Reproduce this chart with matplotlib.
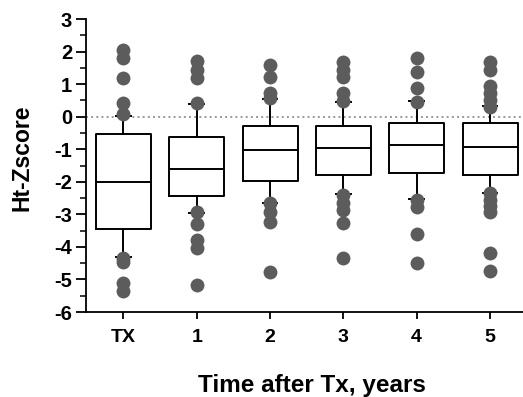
import matplotlib
matplotlib.use('Agg')
from matplotlib import pyplot as plt
from matplotlib.ticker import MultipleLocator

plt.rcParams['font.family'] = ['Liberation Sans', 'DejaVu Sans']
plt.rcParams['font.weight'] = 'bold'
plt.rcParams['axes.unicode_minus'] = False

groups = ["TX", "1", "2", "3", "4", "5"]
q1 = [-3.46, -2.43, -1.97, -1.79, -1.74, -1.79]
med = [-2.01, -1.60, -1.02, -0.97, -0.88, -0.92]
q3 = [-0.53, -0.63, -0.28, -0.29, -0.18, -0.18]
whislo = [-4.30, -2.96, -2.65, -2.37, -2.53, -2.33]
whishi = [0.02, 0.39, 0.54, 0.46, 0.49, 0.33]
outliers = [
    [2.05, 1.80, 1.19, 0.42, 0.08, -4.35, -4.47, -5.12, -5.35],
    [1.70, 1.43, 1.19, 0.42, -2.93, -3.30, -3.80, -4.03, -5.17],
    [1.58, 1.22, 0.73, 0.57, -2.65, -2.93, -3.24, -4.76],
    [1.68, 1.43, 1.22, 0.73, 0.48, -2.40, -2.65, -2.87, -3.27, -4.33],
    [1.80, 1.37, 0.88, 0.45, -2.56, -2.78, -3.60, -4.50],
    [1.68, 1.43, 0.94, 0.73, 0.51, 0.30, -2.34, -2.56, -2.75, -2.93, -4.18, -4.74],
]

fig = plt.figure(figsize=(5.23, 3.97), dpi=100)
ax = fig.add_axes([0.1644, 0.2141, 0.8356, 0.7379])

stats = []
for i in range(len(groups)):
    stats.append(dict(med=med[i], q1=q1[i], q3=q3[i], whislo=whislo[i],
                      whishi=whishi[i], fliers=[], label=groups[i]))

pos = list(range(len(groups)))
ax.axhline(0, color='#999999', linestyle=':', linewidth=1.4, zorder=0)

ax.bxp(stats, positions=pos, widths=0.75, capwidths=0.2, showfliers=False,
       boxprops=dict(color='black', linewidth=1.4),
       medianprops=dict(color='black', linewidth=1.4),
       whiskerprops=dict(color='black', linewidth=1.4),
       capprops=dict(color='black', linewidth=1.4))

for i, vals in enumerate(outliers):
    ax.plot([pos[i]] * len(vals), vals, 'o', color='#5c5c5c', markersize=10,
            markeredgewidth=0, zorder=3)

ax.set_xlim(-0.51, 5.45)
ax.set_ylim(-6, 3)
ax.yaxis.set_major_locator(MultipleLocator(1))
ax.yaxis.set_minor_locator(MultipleLocator(0.5))
ax.set_xticks(pos)
ax.set_xticklabels(groups)

for s in ['top', 'right']:
    ax.spines[s].set_visible(False)
for s in ['left', 'bottom']:
    ax.spines[s].set_linewidth(1.3)

ax.tick_params(axis='y', which='major', length=7, width=1.3, labelsize=14.5, pad=3)
ax.tick_params(axis='y', which='minor', length=4, width=1.1)
ax.tick_params(axis='x', length=5, width=1.3, labelsize=14, pad=7)

ax.set_ylabel('Ht-Zscore', fontsize=16.5, fontweight='bold')
ax.yaxis.set_label_coords(-0.12, 0.526)
ax.set_xlabel('Time after Tx, years', fontsize=17.5, fontweight='bold')
ax.xaxis.set_label_coords(0.518, -0.21)

fig.savefig('out.png', dpi=100)
